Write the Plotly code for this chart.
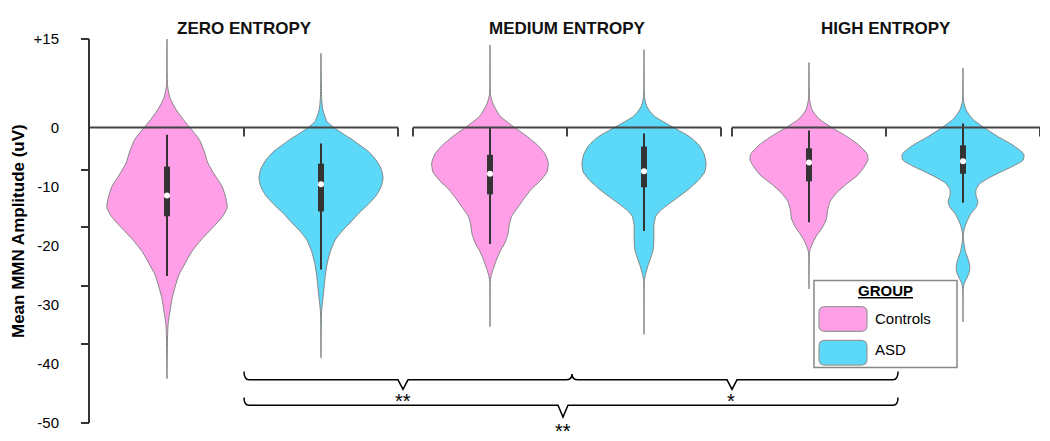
import plotly.graph_objects as go

# panels and groups
panels = ['ZERO ENTROPY', 'MEDIUM ENTROPY', 'HIGH ENTROPY']
groups = ['Controls', 'ASD']

# violin outlines: amplitude levels (uV) and relative density at each level
zero_ctrl_y = [15, 7, 5, 3, 1, 0, -2, -4, -6, -8, -10, -12, -13.5, -15, -17, -19, -21, -23, -25, -27, -29, -31, -33, -35, -42.5]
zero_ctrl_d = [0, 0.01, 0.05, 0.15, 0.29, 0.37, 0.52, 0.6, 0.66, 0.77, 0.89, 0.95, 0.97, 0.9, 0.73, 0.55, 0.4, 0.29, 0.19, 0.13, 0.08, 0.05, 0.02, 0.01, 0]
zero_asd_y = [12.6, 5, 3, 1, 0, -1, -2, -3, -4, -5.5, -7, -8.5, -10, -11.5, -13, -14.5, -16, -17.5, -19, -21, -23, -25, -27, -29, -31, -33, -39]
zero_asd_d = [0, 0.01, 0.03, 0.1, 0.21, 0.35, 0.5, 0.63, 0.76, 0.89, 0.97, 1, 0.97, 0.89, 0.76, 0.61, 0.48, 0.34, 0.23, 0.15, 0.1, 0.07, 0.05, 0.03, 0.01, 0.005, 0]
med_ctrl_y = [14, 5.5, 4, 2, 0, -1.5, -3, -4.5, -6, -7.5, -9, -10.5, -12, -13.5, -15, -16.5, -18, -19.5, -21, -22.5, -24, -25, -26, -33.7]
med_ctrl_d = [0, 0.01, 0.05, 0.16, 0.4, 0.6, 0.77, 0.89, 0.94, 0.92, 0.81, 0.66, 0.55, 0.45, 0.35, 0.31, 0.29, 0.24, 0.16, 0.1, 0.05, 0.02, 0.005, 0]
med_asd_y = [13.2, 5, 3.5, 2, 0, -1.5, -3, -4.5, -6, -7.5, -9, -10.5, -12, -13, -14, -15, -16.5, -18.5, -20.5, -22, -23.5, -25, -26, -35]
med_asd_d = [0, 0.01, 0.05, 0.16, 0.48, 0.73, 0.89, 0.97, 1, 0.98, 0.87, 0.71, 0.52, 0.39, 0.27, 0.19, 0.16, 0.16, 0.15, 0.11, 0.06, 0.02, 0.005, 0]
high_ctrl_y = [11, 4.7, 3, 1.5, 0, -1.5, -3, -4.5, -5.5, -6.5, -8, -9.5, -11, -12.5, -14, -15.5, -17, -18.5, -20, -21, -27.3]
high_ctrl_d = [0, 0.01, 0.05, 0.16, 0.37, 0.61, 0.81, 0.94, 0.95, 0.9, 0.79, 0.61, 0.45, 0.34, 0.3, 0.28, 0.21, 0.11, 0.04, 0.01, 0]
high_asd_y = [10.1, 4.4, 3, 1.5, 0, -1.5, -3, -4.5, -5.5, -6.5, -7.5, -8.5, -9.5, -10.5, -11.5, -12.5, -13.5, -14.5, -15.5, -16.5,
              -17.5, -18.5, -19.5, -21, -22.5, -23.5, -24.5, -25.5, -26.5, -27.5, -32.9]
high_asd_d = [0, 0.01, 0.05, 0.15, 0.34, 0.56, 0.81, 0.98, 0.97, 0.81, 0.61, 0.42, 0.27, 0.21, 0.21, 0.24, 0.21, 0.13, 0.08, 0.04,
              0.013, 0.005, 0.013, 0.04, 0.09, 0.11, 0.1, 0.06, 0.016, 0.003, 0]

# box summaries, order: zero ctrl, zero asd, med ctrl, med asd, high ctrl, high asd
whisker_hi = [-1.2, -2.7, 0, -1, -0.5, 0.7]
whisker_lo = [-25.1, -24, -19.7, -17.5, -16, -12.7]
q3 = [-6.6, -6.1, -4.6, -3.2, -3.5, -3]
q1 = [-15, -14.2, -11.3, -10.1, -9.1, -7.8]
medians = [-11.5, -9.6, -7.8, -7.4, -5.9, -5.7]

# significance labels for the braces
sig_pairs = ['**', '*']
sig_overall = '**'

y_ticklabels = ['+15', '0', '-10', '-20', '-30', '-40', '-50']
y_tickvals = [15, 0, -10, -20, -30, -40, -50]
y_tickmarks = [15, -7.1, -16.9, -26.8, -36.6, -50]

PINK = '#ff9fe7'
BLUE = '#5cd8f9'
OUTLINE = '#858585'
DARK = '#333333'
HALF_W = 62
panel_left = [90, 413, 732]
panel_w = 308

outlines = [(zero_ctrl_y, zero_ctrl_d), (zero_asd_y, zero_asd_d),
            (med_ctrl_y, med_ctrl_d), (med_asd_y, med_asd_d),
            (high_ctrl_y, high_ctrl_d), (high_asd_y, high_asd_d)]

centers = []
for left in panel_left:
    centers += [left + 0.25 * panel_w, left + 0.75 * panel_w]

fig = go.Figure()

for i, (ys, ds) in enumerate(outlines):
    c = centers[i]
    col = PINK if i % 2 == 0 else BLUE
    xs = [c - HALF_W * d for d in ds] + [c + HALF_W * d for d in ds[::-1]]
    yy = ys + ys[::-1]
    fig.add_trace(go.Scatter(x=xs, y=yy, mode='lines', fill='toself', fillcolor=col,
                             line=dict(color=OUTLINE, width=1, shape='spline', smoothing=0.6),
                             hoverinfo='skip', showlegend=False))
    # whisker, box and median
    fig.add_trace(go.Scatter(x=[c, c], y=[whisker_lo[i], whisker_hi[i]], mode='lines',
                             line=dict(color=DARK, width=2), hoverinfo='skip', showlegend=False))
    fig.add_trace(go.Scatter(x=[c, c], y=[q1[i], q3[i]], mode='lines',
                             line=dict(color=DARK, width=6), hoverinfo='skip', showlegend=False))
    fig.add_trace(go.Scatter(x=[c], y=[medians[i]], mode='markers',
                             marker=dict(color='white', size=6), hoverinfo='skip', showlegend=False))

shapes = []
# zero line brackets per panel
for left in panel_left:
    right = left + panel_w
    mid = left + panel_w / 2
    shapes.append(dict(type='line', x0=left, x1=right, y0=0, y1=0, line=dict(color='#444', width=2), layer='above'))
    ticks = [mid, right] if left == panel_left[0] else [left, mid, right]
    for t in ticks:
        shapes.append(dict(type='line', x0=t, x1=t, y0=0, y1=-1.5, line=dict(color='#444', width=2), layer='above'))

# braces
brace = dict(type='path', line=dict(color='black', width=1.5), layer='above')
shapes.append(dict(brace, path='M 244,-41.3 Q 244,-42.7 249,-42.7 L 398,-42.7 L 403,-44.3 L 408,-42.7 '
                                'L 566,-42.7 Q 572,-42.7 572,-41.7 Q 572,-42.7 578,-42.7 L 727,-42.7 '
                                'L 732,-44.3 L 737,-42.7 L 893,-42.7 Q 898,-42.7 898,-41.3'))
shapes.append(dict(brace, path='M 244,-45.7 Q 244,-47 249,-47 L 558,-47 L 563,-49 L 568,-47 '
                                'L 893,-47 Q 898,-47 898,-45.7'))

# legend box
shapes.append(dict(type='rect', x0=814, x1=957, y0=-25.9, y1=-40.6, line=dict(color='#888', width=1.5),
                   fillcolor='white', layer='above'))


def rounded(x0, x1, y0, y1, rx=6, ry=1):
    return (f'M {x0+rx},{y0} L {x1-rx},{y0} Q {x1},{y0} {x1},{y0-ry} L {x1},{y1+ry} '
            f'Q {x1},{y1} {x1-rx},{y1} L {x0+rx},{y1} Q {x0},{y1} {x0},{y1+ry} '
            f'L {x0},{y0-ry} Q {x0},{y0} {x0+rx},{y0} Z')


shapes.append(dict(type='path', path=rounded(819, 867, -30.3, -34.5), fillcolor=PINK,
                   line=dict(color='#999', width=1.2), layer='above'))
shapes.append(dict(type='path', path=rounded(819, 867, -36.0, -40.2), fillcolor=BLUE,
                   line=dict(color='#999', width=1.2), layer='above'))

ann = []
for k, name in enumerate(panels):
    ann.append(dict(x=panel_left[k] + panel_w / 2, y=1, xref='x', yref='paper', yshift=22,
                    text=f'<b>{name}</b>', showarrow=False, font=dict(size=17, color='#111')))
ann.append(dict(x=403, y=-46.2, text=sig_pairs[0], showarrow=False, font=dict(size=20)))
ann.append(dict(x=731, y=-46.2, text=sig_pairs[1], showarrow=False, font=dict(size=20)))
ann.append(dict(x=563, y=0, yref='paper', yshift=-8, yanchor='middle', text=sig_overall,
                showarrow=False, font=dict(size=20)))
ann.append(dict(x=885, y=-27.6, text='<u><b>GROUP</b></u>', showarrow=False, font=dict(size=15)))
ann.append(dict(x=873, y=-32.3, text=groups[0], xanchor='left', showarrow=False, font=dict(size=15)))
ann.append(dict(x=873, y=-37.5, text=groups[1], xanchor='left', showarrow=False, font=dict(size=15)))
ann.append(dict(x=0, y=0.5, xref='paper', yref='paper', xshift=-72, xanchor='center', textangle=-90,
                text='<b>Mean MMN Amplitude (uV)</b>', showarrow=False, font=dict(size=17)))

# the page has an 8px body margin, so the figure is 8px smaller and the margins compensate
fig.update_layout(
    width=1042, height=433,
    margin=dict(l=82, r=10, t=31, b=16),
    paper_bgcolor='white', plot_bgcolor='white',
    font=dict(family='Liberation Sans, Arial, sans-serif', color='black'),
    shapes=shapes, annotations=ann,
    xaxis=dict(range=[90, 1040], visible=False),
    yaxis=dict(range=[-50, 15], tickvals=y_tickvals, ticktext=y_ticklabels, ticks='',
               showline=True, linecolor=DARK, linewidth=2, showgrid=False, zeroline=False,
               ticklabelstandoff=26, tickfont=dict(size=15)),
    yaxis2=dict(range=[-50, 15], overlaying='y', anchor='x', side='left', tickvals=y_tickmarks,
                showticklabels=False, ticks='outside', ticklen=8, tickwidth=2, tickcolor=DARK,
                showgrid=False, zeroline=False, showline=False),
)
# dummy trace to show the tick-mark axis
fig.add_trace(go.Scatter(x=[None], y=[None], yaxis='y2', showlegend=False, hoverinfo='skip'))

fig.write_html('out.html')
